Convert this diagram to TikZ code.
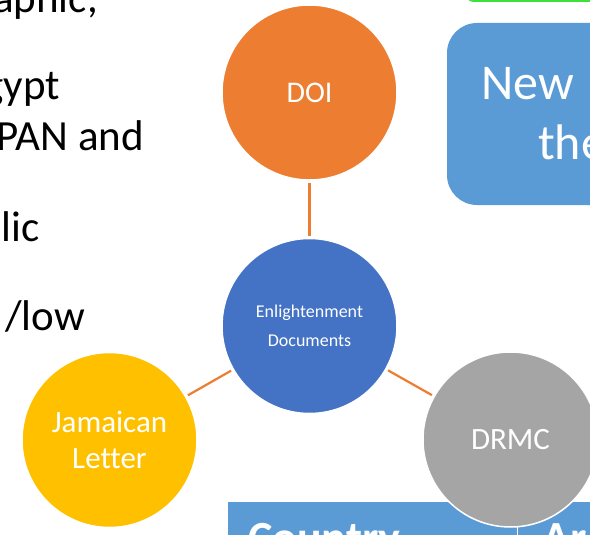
\documentclass[tikz,border=0pt]{standalone}
\usepackage{fontspec}
\setmainfont{Carlito}[Ligatures=NoCommon]
\definecolor{orng}{HTML}{ED7D31}
\definecolor{blu}{HTML}{4472C4}
\definecolor{yel}{HTML}{FFC000}
\definecolor{gry}{HTML}{A5A5A5}
\definecolor{lblu}{HTML}{5B9BD5}
\definecolor{grn}{RGB}{60,225,60}
\tikzset{
  bubble/.style={circle, minimum size=175pt, inner sep=0pt, draw=white, line width=1.5pt, text=white, align=center},
  link/.style={draw=orng, line width=2.2pt},
  bodytext/.style={inner sep=0pt, font=\fontsize{43}{50}\selectfont, text=black},
  boxtext/.style={inner sep=0pt, font=\fontsize{50}{60}\selectfont, text=white}
}
\begin{document}
\begin{tikzpicture}[x=1pt,y=-1pt]
\useasboundingbox (0,0) rectangle (590,535);
\clip (0,0) rectangle (590,535);
\fill[white] (0,0) rectangle (590,535);
% left body text
\node[bodytext, anchor=base east] (t1) at (98,13) {aphic,};
\node[bodytext, anchor=base east] (t2) at (60,100) {gypt};
\node[bodytext, anchor=base east] (t3) at (144,150) {PAN and};
\node[bodytext, anchor=base east] (t4) at (40,241) {lic};
\node[bodytext, anchor=base east] (t5) at (85,330) {/low};
% green box at top
\draw[grn, line width=2pt, rounded corners=8pt] (466,-40) rectangle (640,1);
% blue rounded box
\fill[lblu, rounded corners=30pt] (447,23) rectangle (640,205);
\node[boxtext, anchor=base west] (bx1) at (481,100) {New};
\node[boxtext, anchor=base west] (bx2) at (538,160) {the};
% table header
\fill[lblu] (228,502) rectangle (600,545);
\draw[white, line width=1pt] (517,502) -- (517,545);
\node[inner sep=0pt, anchor=base west, font=\bfseries\fontsize{46}{50}\selectfont, text=white] (c1) at (248,553) {Country};
\node[inner sep=0pt, anchor=base west, font=\bfseries\fontsize{46}{50}\selectfont, text=white] (c2) at (542,553) {Ar};
% circles
\node[bubble, fill=blu, font=\fontsize{18}{29}\selectfont] (enl) at (309.5,326) {Enlightenment\\Documents};
\node[bubble, fill=orng, font=\fontsize{30}{34}\selectfont] (doi) at (309.5,92.5) {DOI};
\node[bubble, fill=yel, font=\fontsize{31}{36}\selectfont] (jam) at (109.5,440) {Jamaican\\Letter};
\node[bubble, fill=gry, font=\fontsize{31}{36}\selectfont] (drmc) at (510.5,439.5) {DRMC};
% connectors
\draw[link, shorten <=2pt, shorten >=2pt] (enl) -- (doi);
\draw[link, shorten <=2pt, shorten >=2pt] (enl) -- (jam);
\draw[link, shorten <=2pt, shorten >=2pt] (enl) -- (drmc);
\end{tikzpicture}
\end{document}
